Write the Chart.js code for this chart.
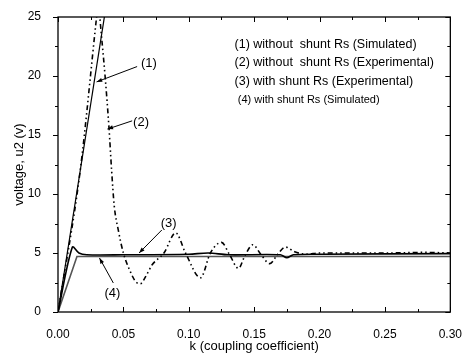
<!DOCTYPE html>
<html>
<head>
<meta charset="utf-8">
<script src="https://cdn.jsdelivr.net/npm/chart.js@4/dist/chart.umd.min.js"></script>
<style>
  html, body { margin: 0; padding: 0; background: #fff; }
  #wrap { width: 469px; height: 356px; }
</style>
</head>
<body>
<div id="wrap"><canvas id="chart" width="469" height="356"></canvas></div>
<script>
// (1) without shunt Rs, simulated
const k1 = [0, 0.04];
const u1 = [0, 28.2];

// (2) without shunt Rs, experimental
const k2 = [0, 0.017, 0.0295, 0.031, 0.032, 0.036, 0.039, 0.041, 0.043, 0.046, 0.050, 0.055, 0.060, 0.063,
  0.067, 0.072, 0.081, 0.090, 0.0975, 0.109, 0.1165, 0.125, 0.131, 0.138, 0.143, 0.149, 0.155, 0.162,
  0.168, 0.174, 0.181, 0.19, 0.20, 0.22, 0.25, 0.28, 0.30];
const u2 = [0, 12, 25, 26.5, 25, 20, 15.6, 12, 9, 7, 5, 3.5, 2.5, 2.4,
  3, 4, 5, 6.7, 5, 2.9, 5, 5.9, 4.9, 3.7, 4.8, 5.7, 4.9, 4.1,
  4.9, 5.5, 5.1, 4.9, 5.0, 5.0, 5.0, 5.05, 5.0];

// (3) with shunt Rs, experimental
const k3 = [0, 0.011, 0.016, 0.022, 0.05, 0.10, 0.115, 0.13, 0.17, 0.175, 0.18, 0.20, 0.30];
const u3 = [0, 5.5, 5.0, 4.85, 4.85, 4.9, 5.0, 4.85, 4.85, 4.6, 4.85, 4.9, 4.95];

// (4) with shunt Rs, simulated
const k4 = [0, 0.0145, 0.30];
const u4 = [0, 4.7, 4.7];

const xTicks = [0, 0.05, 0.10, 0.15, 0.20, 0.25, 0.30];
const yTicks = [0, 5, 10, 15, 20, 25];

const legendLines = [
  '(1) without  shunt Rs (Simulated)',
  '(2) without  shunt Rs (Experimental)',
  '(3) with shunt Rs (Experimental)',
  '(4) with shunt Rs (Simulated)'
];

// label text, label anchor, arrow start, arrow tip (data units)
const callouts = [
  { text: '(1)', at: [0.0695, 21.1], from: [0.0605, 20.8], to: [0.0295, 19.5] },
  { text: '(2)', at: [0.0635, 16.1], from: [0.0567, 16.2], to: [0.0378, 15.5] },
  { text: '(3)', at: [0.0846, 7.5], from: [0.0794, 6.95], to: [0.062, 5.0] },
  { text: '(4)', at: [0.0416, 1.6], from: [0.0423, 2.46], to: [0.0317, 4.58] }
];

function pts(ks, us) {
  return ks.map((k, i) => ({ x: k, y: us[i] }));
}

const FONT = 'Liberation Sans, Arial, sans-serif';

const framePlugin = {
  id: 'frame',
  afterDraw(chart) {
    const ctx = chart.ctx;
    const a = chart.chartArea;
    const xs = chart.scales.x, ys = chart.scales.y;
    ctx.save();
    ctx.strokeStyle = '#000';
    ctx.lineWidth = 1.3;
    ctx.strokeRect(a.left, a.top, a.right - a.left, a.bottom - a.top);
    ctx.lineWidth = 1;
    ctx.beginPath();
    for (let v = 0; v <= 25.001; v += 2.5) {
      const y = Math.round(ys.getPixelForValue(v)) + 0.5;
      const major = Math.abs(v / 5 - Math.round(v / 5)) < 1e-6;
      const len = major ? 5 : 3;
      ctx.moveTo(a.left - len, y); ctx.lineTo(a.left, y);
      ctx.moveTo(a.right, y); ctx.lineTo(a.right - len, y);
    }
    for (let v = 0; v <= 0.3001; v += 0.025) {
      const x = Math.round(xs.getPixelForValue(v)) + 0.5;
      const major = Math.abs(v / 0.05 - Math.round(v / 0.05)) < 1e-6;
      const len = major ? 5 : 3;
      ctx.moveTo(x, a.bottom); ctx.lineTo(x, a.bottom - len);
      ctx.moveTo(x, a.top); ctx.lineTo(x, a.top + len);
    }
    ctx.stroke();

    // legend text
    ctx.fillStyle = '#000';
    ctx.textBaseline = 'middle';
    ctx.textAlign = 'left';
    const legY = [22.7, 21.1, 19.5, 18.0];
    legendLines.forEach((t, i) => {
      ctx.font = (i === 3 ? '11px ' : '12.5px ') + FONT;
      const x = xs.getPixelForValue(i === 3 ? 0.1375 : 0.135);
      ctx.fillText(t, x, ys.getPixelForValue(legY[i]));
    });

    // callouts with arrows
    ctx.font = '13px ' + FONT;
    ctx.textAlign = 'center';
    callouts.forEach(c => {
      ctx.fillText(c.text, xs.getPixelForValue(c.at[0]), ys.getPixelForValue(c.at[1]));
      const x0 = xs.getPixelForValue(c.from[0]), y0 = ys.getPixelForValue(c.from[1]);
      const x1 = xs.getPixelForValue(c.to[0]), y1 = ys.getPixelForValue(c.to[1]);
      ctx.beginPath();
      ctx.lineWidth = 1;
      ctx.moveTo(x0, y0); ctx.lineTo(x1, y1);
      ctx.stroke();
      const ang = Math.atan2(y1 - y0, x1 - x0);
      ctx.beginPath();
      ctx.moveTo(x1, y1);
      ctx.lineTo(x1 - 6 * Math.cos(ang - 0.35), y1 - 6 * Math.sin(ang - 0.35));
      ctx.lineTo(x1 - 6 * Math.cos(ang + 0.35), y1 - 6 * Math.sin(ang + 0.35));
      ctx.closePath();
      ctx.fill();
    });
    ctx.restore();
  }
};

new Chart('chart', {
  type: 'line',
  data: {
    datasets: [
      { label: '(1)', data: pts(k1, u1), borderColor: '#000', borderWidth: 1.2, tension: 0 },
      { label: '(2)', data: pts(k2, u2), borderColor: '#000', borderWidth: 1.6,
        borderDash: [5, 3, 1.5, 3, 1.5, 3], tension: 0.4, cubicInterpolationMode: 'monotone' },
      { label: '(3)', data: pts(k3, u3), borderColor: '#000', borderWidth: 1.6, tension: 0.3 },
      { label: '(4)', data: pts(k4, u4), borderColor: '#555', borderWidth: 1.6, tension: 0 }
    ]
  },
  options: {
    responsive: false,
    animation: false,
    elements: { point: { radius: 0 } },
    layout: { padding: { top: 17, right: 14, left: 0, bottom: 0 } },
    plugins: { legend: { display: false }, tooltip: { enabled: false } },
    scales: {
      x: {
        type: 'linear', min: 0, max: 0.30,
        afterFit: s => { s.height = 44; },
        afterBuildTicks: s => { s.ticks = xTicks.map(v => ({ value: v })); },
        grid: { display: false },
        border: { display: false },
        ticks: { color: '#000', font: { family: FONT, size: 12 }, padding: 7, maxRotation: 0,
          callback: v => v.toFixed(2) },
        title: { display: true, text: 'k (coupling coefficient)', color: '#000',
          font: { family: FONT, size: 13 }, padding: { top: 0, bottom: 2 } }
      },
      y: {
        type: 'linear', min: 0, max: 25,
        afterFit: s => { s.width = 58; },
        afterBuildTicks: s => { s.ticks = yTicks.map(v => ({ value: v })); },
        grid: { display: false },
        border: { display: false },
        ticks: { color: '#000', font: { family: FONT, size: 12 }, padding: 9 },
        title: { display: true, text: 'voltage, u2 (v)', color: '#000',
          font: { family: FONT, size: 13 }, padding: { top: 12, bottom: 0 } }
      }
    }
  },
  plugins: [framePlugin]
});
</script>
</body>
</html>
